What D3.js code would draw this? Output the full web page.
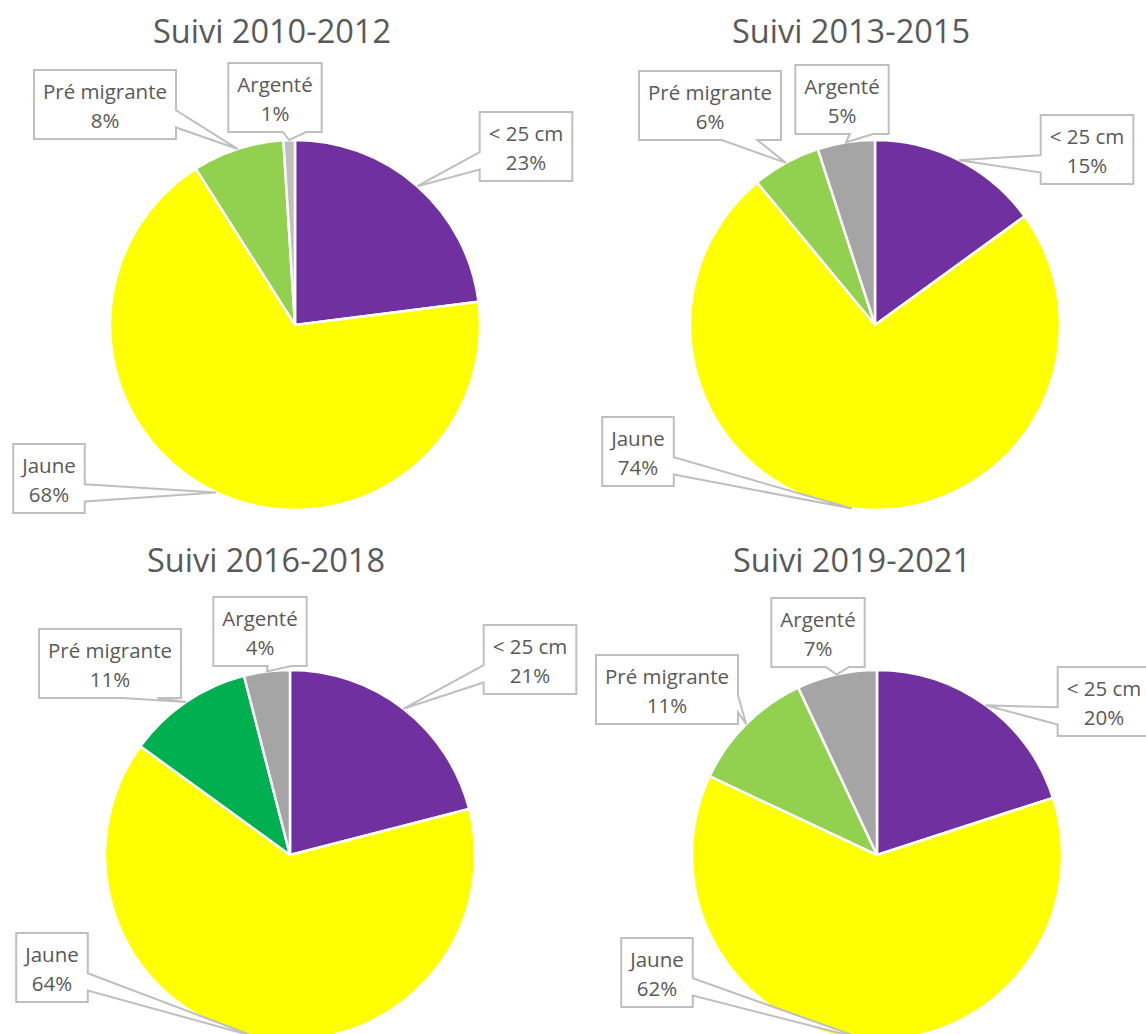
<!DOCTYPE html>
<html>
<head>
<meta charset="utf-8">
<script src="https://cdn.jsdelivr.net/npm/d3@7"></script>
<style>
  body { margin: 0; background: #fff; }
  svg { display: block; font-family: "Open Sans", sans-serif; }
</style>
</head>
<body>
<script>
// data
const titles = ["Suivi 2010-2012", "Suivi 2013-2015", "Suivi 2016-2018", "Suivi 2019-2021"];
const categories = ["< 25 cm", "Jaune", "Pré migrante", "Argenté"];
const values2010 = [23, 68, 8, 1];
const values2013 = [15, 74, 6, 5];
const values2016 = [21, 64, 11, 4];
const values2019 = [20, 62, 11, 7];
const allValues = [values2010, values2013, values2016, values2019];

// layout
const W = 1146, H = 1034;
const radius = 185;
const centers = [[295, 325], [875, 325], [290, 855], [877, 855]];
const titlePos = [[272, 43], [851, 43], [266, 572], [852, 572]];
// callout box: [center x, top y] for each category, in category order
const boxPos = [
  [[526, 112], [49, 444], [105, 70], [275, 63]],
  [[1087, 115], [638, 417], [710, 71], [842, 65]],
  [[530, 625], [52, 933], [110, 629], [260, 597]],
  [[1104, 667], [657, 938], [667, 655], [818, 598]]
];
const sliceColors = [
  ["#7030A0", "#FFFF00", "#92D050", "#BFBFBF"],
  ["#7030A0", "#FFFF00", "#92D050", "#A5A5A5"],
  ["#7030A0", "#FFFF00", "#00B050", "#A5A5A5"],
  ["#7030A0", "#FFFF00", "#92D050", "#A5A5A5"]
];
const textColor = "#595959";
const boxStroke = "#BFBFBF";
const boxH = 69;

const svg = d3.select("body").append("svg")
  .attr("width", W).attr("height", H);
svg.append("rect").attr("width", W).attr("height", H).attr("fill", "#fff");

const pie = d3.pie().sort(null).value(d => d);
const arc = d3.arc().innerRadius(0).outerRadius(radius);

// wedgeRectCallout outline (OOXML preset geometry)
function calloutPath(l, t, w, h, tx, ty) {
  const r = l + w, b = t + h;
  const hc = l + w / 2, vc = t + h / 2;
  const dxPos = tx - hc, dyPos = ty - vc;
  const x1 = l + w * (dxPos > 0 ? 7 : 2) / 12;
  const x2 = l + w * (dxPos > 0 ? 10 : 5) / 12;
  const y1 = t + h * (dyPos > 0 ? 7 : 2) / 12;
  const y2 = t + h * (dyPos > 0 ? 10 : 5) / 12;
  const inside = tx >= l && tx <= r && ty >= t && ty <= b;
  let side = "none";
  if (!inside) {
    if (Math.abs(dxPos) / w > Math.abs(dyPos) / h) side = dxPos > 0 ? "right" : "left";
    else side = dyPos > 0 ? "bottom" : "top";
  }
  const pts = [[l, t], [x1, t]];
  if (side === "top") pts.push([tx, ty]);
  pts.push([x2, t], [r, t], [r, y1]);
  if (side === "right") pts.push([tx, ty]);
  pts.push([r, y2], [r, b], [x2, b]);
  if (side === "bottom") pts.push([tx, ty]);
  pts.push([x1, b], [l, b], [l, y2]);
  if (side === "left") pts.push([tx, ty]);
  pts.push([l, y1]);
  return "M" + pts.map(p => p.join(",")).join("L") + "Z";
}

allValues.forEach((vals, ci) => {
  const [cx, cy] = centers[ci];

  svg.append("text")
    .attr("x", titlePos[ci][0]).attr("y", titlePos[ci][1])
    .attr("text-anchor", "middle")
    .attr("font-size", 32.5)
    .attr("fill", textColor)
    .text(titles[ci]);

  const g = svg.append("g").attr("transform", `translate(${cx},${cy})`);
  const arcs = pie(vals);

  g.selectAll("path.slice")
    .data(arcs)
    .join("path")
    .attr("class", "slice")
    .attr("d", arc)
    .attr("fill", (d, i) => sliceColors[ci][i])
    .attr("stroke", "#fff")
    .attr("stroke-width", 2.5)
    .attr("stroke-linejoin", "round");

  // callouts
  arcs.forEach((d, i) => {
    const mid = (d.startAngle + d.endAngle) / 2;
    const tx = cx + Math.sin(mid) * radius;
    const ty = cy - Math.cos(mid) * radius;
    const [bx, top] = boxPos[ci][i];

    const lg = svg.append("g");
    const outline = lg.append("path");
    const t1 = lg.append("text")
      .attr("x", bx).attr("y", top + 29)
      .attr("text-anchor", "middle")
      .attr("font-size", 20.5)
      .attr("fill", textColor)
      .text(categories[i]);
    const t2 = lg.append("text")
      .attr("x", bx).attr("y", top + 58)
      .attr("text-anchor", "middle")
      .attr("font-size", 20.5)
      .attr("fill", textColor)
      .text(vals[i] + "%");
    const tw = Math.max(t1.node().getComputedTextLength(), t2.node().getComputedTextLength());
    const bw = tw + 18;
    outline
      .attr("d", calloutPath(bx - bw / 2, top, bw, boxH, tx, ty))
      .attr("fill", "#fff")
      .attr("stroke", boxStroke)
      .attr("stroke-width", 2);
  });
});
</script>
</body>
</html>
